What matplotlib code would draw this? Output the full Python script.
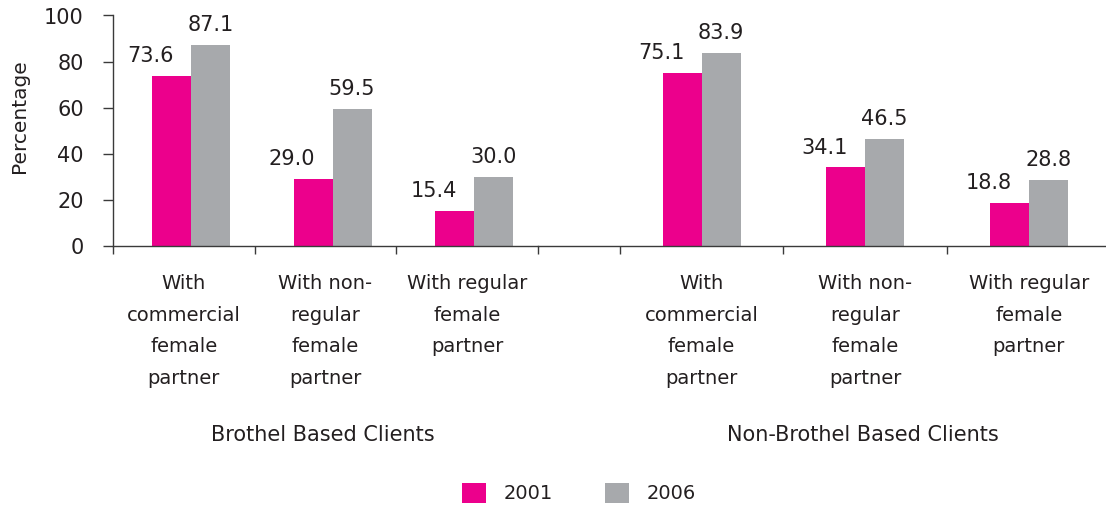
import matplotlib
matplotlib.use("Agg")
import matplotlib.pyplot as plt
import numpy as np
from matplotlib.patches import Patch

# ---- data ----
categories = ["With\ncommercial\nfemale\npartner",
              "With non-\nregular\nfemale\npartner",
              "With regular\nfemale\npartner"]
groups = ["Brothel Based Clients", "Non-Brothel Based Clients"]
series_names = ["2001", "2006"]
brothel_2001 = [73.6, 29.0, 15.4]
brothel_2006 = [87.1, 59.5, 30.0]
nonbrothel_2001 = [75.1, 34.1, 18.8]
nonbrothel_2006 = [83.9, 46.5, 28.8]
yticks = [0, 20, 40, 60, 80, 100]

PINK = "#EC008C"
GRAY = "#A7A9AC"
TXT = "#231F20"
AX = "#3A3A3A"

plt.rcParams['font.family'] = ['DejaVu Sans']

W, H = 1106, 505
fig = plt.figure(figsize=(W / 100, H / 100), dpi=100)

y0_px = 246      # pixel row of y=0 (from top)
y100_px = 15.5   # pixel row of y=100
ax_h = (y0_px - y100_px) / H
ax_b = (H - y0_px) / H

axL = fig.add_axes([113 / W, ax_b, (538 - 113) / W, ax_h])
axR = fig.add_axes([538 / W, ax_b, (W - 538) / W, ax_h])

bar_px = 39
x = np.arange(len(categories))

def draw(ax, v1, v2, xlim, shift, group_label):
    ax.set_xlim(*xlim)
    ax.set_ylim(0, 100)
    ax.set_facecolor("none")
    px_per_unit = ax.get_position().width * W / (xlim[1] - xlim[0])
    w = bar_px / px_per_unit
    b1 = ax.bar(x + shift - w / 2, v1, width=w, color=PINK, linewidth=0)
    b2 = ax.bar(x + shift + w / 2, v2, width=w, color=GRAY, linewidth=0)
    for rect, v in zip(b1, v1):
        ax.annotate(f"{v:.1f}", (rect.get_x() + rect.get_width() / 2, v),
                    xytext=(-15, 10), textcoords="offset points",
                    ha="center", va="baseline", fontsize=15, color=TXT)
    for rect, v in zip(b2, v2):
        ax.annotate(f"{v:.1f}", (rect.get_x() + rect.get_width() / 2, v),
                    xytext=(0, 10), textcoords="offset points",
                    ha="center", va="baseline", fontsize=15, color=TXT)
    for i, c in enumerate(categories):
        ax.annotate(c, (i, 0), xycoords=("data", "axes fraction"),
                    xytext=(0, -20), textcoords="offset points",
                    ha="center", va="top", fontsize=14, color=TXT,
                    linespacing=1.85)
    ax.annotate(group_label, (1, 0), xycoords=("data", "axes fraction"),
                xytext=(-2, -136), textcoords="offset points",
                ha="center", va="center", fontsize=15, color=TXT)
    bounds = [b for b in np.arange(-0.5, 3.0, 1.0) if xlim[0] <= b <= xlim[1]]
    ax.set_xticks(bounds)
    ax.set_xticklabels([])
    ax.tick_params(axis="x", direction="out", length=6, width=1, color=AX)
    for s in ["top", "right"]:
        ax.spines[s].set_visible(False)
    ax.spines["bottom"].set_color(AX)
    ax.spines["bottom"].set_linewidth(1.0)

draw(axL, brothel_2001, brothel_2006, (-0.5, 2.5), 0.05, groups[0])
draw(axR, nonbrothel_2001, nonbrothel_2006,
     (-1.0, -1.0 + (W - 538) / 163.6), 0.0, groups[1])

axL.set_yticks(yticks)
axL.set_yticklabels([str(t) for t in yticks], fontsize=15, color=TXT)
axL.tick_params(axis="y", direction="out", length=7, width=1, color=AX, pad=14)
axL.spines["left"].set_color(AX)
axL.spines["left"].set_linewidth(1.0)
axR.spines["left"].set_visible(False)
axR.set_yticks([])

fig.text(20 / W, 1 - 116 / H, "Percentage", rotation=90, ha="center",
         va="center", fontsize=14.5, color=TXT)

handles = [Patch(facecolor=PINK, edgecolor="none"),
           Patch(facecolor=GRAY, edgecolor="none")]
leg = fig.legend(handles, series_names, loc="center",
                 bbox_to_anchor=(579 / W, 1 - 493 / H), ncol=2, frameon=False,
                 fontsize=14, handlelength=1.23, handleheight=1.23,
                 handletextpad=0.9, columnspacing=2.7, borderpad=0,
                 borderaxespad=0)
for t in leg.get_texts():
    t.set_color(TXT)

fig.savefig("out.png", dpi=100)
